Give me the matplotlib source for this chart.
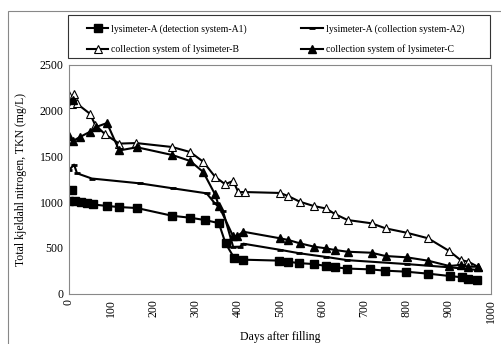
import matplotlib
matplotlib.use("Agg")
import matplotlib.pyplot as plt
from matplotlib.patches import Rectangle

plt.rcParams['font.family'] = ['Liberation Serif', 'DejaVu Serif']

# lysimeter-A, detection system A1
a1_days = [0, 14, 28, 42, 56, 91, 119, 161, 245, 287, 322, 355, 371, 392, 413,
           497, 518, 546, 581, 609, 630, 658, 714, 749, 798, 851, 903, 931, 945, 966]
a1_tkn = [1010, 1010, 1005, 995, 975, 957, 946, 935, 850, 829, 804, 770, 548, 385, 370,
          360, 348, 332, 322, 301, 288, 273, 264, 250, 239, 217, 191, 177, 159, 148]
a1_out_day = [8]
a1_out_tkn = [1130]

# lysimeter-A, collection system A2
a2_days = [0, 12, 19, 54, 168, 247, 326, 345, 365, 389, 405, 413, 500, 546, 609,
           659, 800, 900, 945, 969]
a2_tkn = [1350, 1410, 1315, 1258, 1205, 1150, 1096, 990, 900, 510, 512, 545, 478, 440, 400,
          365, 322, 287, 268, 257]

# collection system of lysimeter-B
b_days = [0, 6, 12, 18, 50, 62, 86, 119, 159, 244, 287, 318, 346, 370, 389, 401, 417,
          500, 520, 547, 580, 609, 630, 660, 717, 750, 800, 851, 901, 928, 946, 969]
b_tkn = [2170, 2075, 2180, 2080, 1965, 1845, 1740, 1640, 1646, 1603, 1548, 1442, 1278, 1195,
         1232, 1110, 1110, 1100, 1065, 1004, 957, 930, 870, 804, 768, 713, 665, 604, 465,
         366, 348, 293]

# collection system of lysimeter-C
c_days = [0, 10, 25, 50, 63, 90, 119, 161, 245, 287, 318, 346, 355, 389, 399, 413,
          500, 520, 547, 581, 609, 630, 660, 717, 750, 800, 851, 901, 928, 946, 969]
c_tkn = [1720, 1670, 1710, 1770, 1820, 1865, 1565, 1600, 1515, 1450, 1330, 1085, 960, 625,
         630, 676, 604, 585, 549, 512, 494, 476, 457, 446, 410, 396, 359, 301, 312, 293, 293]
c_out_day = [10]
c_out_tkn = [2120]

labels = ['lysimeter-A (detection system-A1)', 'collection system of lysimeter-B',
          'lysimeter-A (collection system-A2)', 'collection system of lysimeter-C']

fig = plt.figure(figsize=(5.01, 3.44), dpi=100)
# outer chart border and legend box
fig.patches.append(Rectangle((8 / 501, -0.1), 1.2, 1.1 - 11 / 344, transform=fig.transFigure,
                             fill=False, edgecolor='#888888', linewidth=0.8))
fig.patches.append(Rectangle((68 / 501, 1 - 58 / 344), 422 / 501, 43 / 344,
                             transform=fig.transFigure, fill=False, edgecolor='#333333',
                             linewidth=0.8))
ax = fig.add_axes([69 / 501, 1 - 293.5 / 344, 422 / 501, 228.5 / 344])

lw = 1.5
l1, = ax.plot(a1_days, a1_tkn, color='black', lw=lw, marker='s', ms=6.3)
ax.plot(a1_out_day, a1_out_tkn, color='black', ls='none', marker='s', ms=6.3)
l2, = ax.plot(a2_days, a2_tkn, color='black', lw=lw, marker='_', ms=5, mew=2)
l3, = ax.plot(b_days, b_tkn, color='black', lw=lw, marker='^', ms=5.5,
              mfc='white', mew=0.8)
l4, = ax.plot(c_days, c_tkn, color='black', lw=lw, marker='^', ms=5.5)
ax.plot(c_out_day, c_out_tkn, color='black', ls='none', marker='^', ms=5.5)

ax.set_xlim(0, 1000)
ax.set_ylim(0, 2500)
ax.set_xticks(range(0, 1001, 100))
ax.set_yticks(range(0, 2501, 500))
ax.tick_params(axis='x', labelrotation=90)
ax.tick_params(labelsize=8.5, length=0, pad=4)
for s in ax.spines.values():
    s.set_color('#888888')

ax.set_xlabel('Days after filling', fontsize=8.5, labelpad=6)
ax.set_ylabel('Total kjeldahl nitrogen, TKN (mg/L)', fontsize=8.5, labelpad=9)

leg = fig.legend([l1, l3, l2, l4], labels, ncol=2, loc='upper left',
                 bbox_to_anchor=(87 / 501, 1 - 24 / 344), frameon=False,
                 fontsize=7, handlelength=2.2, handletextpad=0.3, borderpad=0,
                 borderaxespad=0, labelspacing=1.15, columnspacing=5.6)

fig.savefig('out.png', dpi=100)
